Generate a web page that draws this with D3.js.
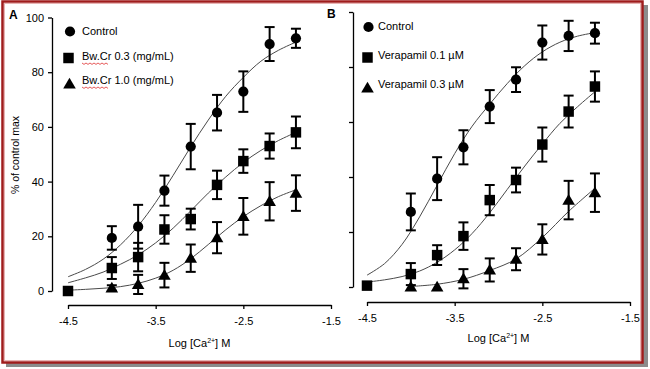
<!DOCTYPE html>
<html>
<head>
<meta charset="utf-8">
<script src="https://cdn.jsdelivr.net/npm/d3@7"></script>
<style>
  html, body { margin: 0; padding: 0; background: #fff; }
  svg { display: block; font-family: "Liberation Sans", Arial, sans-serif; }
</style>
</head>
<body>
<svg id="chart" width="650" height="369"></svg>
<script>
// ---------------- DATA ----------------
const concX = [-4.5, -4.0, -3.7, -3.4, -3.1, -2.8, -2.5, -2.2, -1.9];
const xTicks = [-4.5, -3.5, -2.5, -1.5];
const yTicks = [0, 20, 40, 60, 80, 100];

// Panel A
const aLabels = ["Control", "Bw.Cr 0.3 (mg/mL)", "Bw.Cr 1.0 (mg/mL)"];
const aControl    = [null, 19.4, 23.5, 36.7, 52.8, 65.2, 72.9, 90.3, 92.4];
const aControlErr = [null, 4.3, 8.0, 5.5, 8.3, 6.5, 7.4, 6.2, 3.5];
const aBw03       = [0, 8.4, 12.4, 22.5, 26.3, 38.8, 47.5, 53.0, 58.0];
const aBw03Err    = [0, 4.0, 5.2, 5.2, 3.8, 5.2, 4.3, 4.6, 5.8];
const aBw10       = [null, 1.1, 2.4, 5.8, 12.0, 19.5, 27.3, 32.8, 35.8];
const aBw10Err    = [null, 1.0, 3.5, 4.5, 5.0, 5.7, 6.7, 7.0, 6.5];

// Panel B
const bLabels = ["Control", "Verapamil 0.1 \u00B5M", "Verapamil 0.3 \u00B5M"];
const bControl    = [null, 27.3, 39.4, 50.8, 65.6, 75.4, 88.9, 91.3, 92.3];
const bControlErr = [null, 6.7, 7.8, 6.2, 6.0, 4.5, 6.2, 5.5, 3.8];
const bVer01      = [0.5, 4.7, 11.6, 18.5, 31.6, 38.9, 51.8, 63.8, 72.9];
const bVer01Err   = [0, 4.0, 3.6, 5.0, 5.5, 4.5, 6.2, 5.8, 5.5];
const bVer03      = [null, 0, 0, 3.0, 6.2, 10.1, 17.3, 31.6, 34.3];
const bVer03Err   = [null, 0, 0, 3.5, 4.2, 4.0, 5.5, 7.0, 7.0];

// Fitted curves
const curveX = [-4.5, -4.3, -4.1, -3.9, -3.7, -3.5, -3.3, -3.1, -2.9, -2.7, -2.5, -2.3, -2.1, -1.9];
const aControlFit = [5.2, 7.9, 11.6, 16.9, 23.8, 32.4, 42.3, 52.7, 62.5, 71.2, 78.1, 84.0, 88.0, 91.0];
const aBw03Fit    = [3.0, 4.8, 6.9, 9.8, 13.2, 17.6, 23.0, 29.3, 35.8, 41.7, 47.0, 51.4, 55.0, 58.0];
const aBw10Fit    = [0.3, 0.6, 1.0, 1.6, 2.8, 4.7, 7.6, 11.8, 17.0, 22.4, 27.2, 31.2, 34.5, 37.0];
const bControlFit = [4.3, 8.5, 15.5, 25.5, 37.0, 48.5, 58.5, 66.5, 74.0, 80.5, 85.5, 89.0, 91.2, 92.5];
const bVer01Fit   = [1.8, 2.6, 3.8, 5.8, 9.0, 13.5, 19.5, 27.0, 35.5, 44.0, 52.0, 59.5, 65.5, 71.0];
const bVer03FitX  = [-4.0, -3.7, -3.4, -3.1, -2.8, -2.5, -2.2, -1.9];
const bVer03Fit   = [0.2, 1.0, 2.8, 6.0, 10.2, 18.0, 27.5, 35.9];

// ---------------- DRAW ----------------
const svg = d3.select("#chart");

// frame with shadow
svg.append("rect").attr("x", 6).attr("y", 5).attr("width", 642).attr("height", 362).attr("fill", "#8c8c8c");
svg.append("rect").attr("x", 2.5).attr("y", 1.5).attr("width", 640).attr("height", 361)
  .attr("fill", "#fff").attr("stroke", "#a01c1c").attr("stroke-width", 2.5);
svg.append("rect").attr("x", 4.5).attr("y", 3.5).attr("width", 636).attr("height", 357)
  .attr("fill", "none").attr("stroke", "#e8b4b4").attr("stroke-width", 1);

function symbolPath(kind) {
  if (kind === "circle") return d3.symbol(d3.symbolCircle, 82)();
  if (kind === "square") return d3.symbol(d3.symbolSquare, 110)();
  return "M0,-6.2L6.3,4.6L-6.3,4.6Z";
}

function panel(cfg) {
  const x = d3.scaleLinear().domain([-4.5, -1.5]).range(cfg.xRange);
  const y = d3.scaleLinear().domain([0, 100]).range(cfg.yRange);
  const g = svg.append("g");

  // y axis
  const yAxis = d3.axisLeft(y).tickValues(yTicks).tickSize(4).tickSizeOuter(0).tickPadding(4)
    .tickFormat(cfg.yLabels ? d => String(d) : () => "");
  const ya = g.append("g").attr("transform", `translate(${cfg.yAxisX},0)`).call(yAxis);
  // x axis
  const xAxis = d3.axisBottom(x).tickValues(xTicks).tickSize(4).tickSizeOuter(0).tickPadding(8)
    .tickFormat(d => d.toFixed(1));
  const xa = g.append("g").attr("transform", `translate(0,${cfg.xAxisY})`).call(xAxis);
  [ya, xa].forEach(a => {
    a.selectAll("path.domain").attr("stroke", "#000").attr("stroke-width", 1.3);
    a.selectAll(".tick line").attr("stroke", "#000").attr("stroke-width", 1.3);
    a.selectAll(".tick text").attr("fill", "#000").style("font-size", "11px")
      .style("font-family", "'Liberation Sans', Arial, sans-serif");
  });

  // axis title
  const t = g.append("text").attr("x", (cfg.xRange[0] + cfg.xRange[1]) / 2).attr("y", cfg.titleY)
    .attr("text-anchor", "middle").style("font-size", "11px").attr("fill", "#000");
  t.append("tspan").text("Log [Ca");
  t.append("tspan").text("2+").attr("dy", -4).style("font-size", "7px");
  t.append("tspan").text("] M").attr("dy", 4);

  // panel letter
  g.append("text").attr("x", cfg.letterX).attr("y", cfg.letterY).text(cfg.letter)
    .style("font-size", "12px").style("font-weight", "bold").attr("fill", "#000");

  // curves
  const line = d3.line().defined(d => d[1] != null).x(d => x(d[0])).y(d => y(d[1]))
    .curve(d3.curveCatmullRom.alpha(0.5));
  cfg.fits.forEach(f => {
    g.append("path").attr("d", line(f.xs.map((xv, i) => [xv, f.ys[i]])))
      .attr("fill", "none").attr("stroke", "#4a4a4a").attr("stroke-width", 1);
  });

  // error bars
  cfg.series.forEach(s => {
    s.vals.forEach((v, i) => {
      const e = s.err[i];
      if (v == null || !e) return;
      const cx = x(concX[i]);
      const eg = g.append("g").attr("stroke", "#000").attr("stroke-width", 2);
      eg.append("line").attr("x1", cx).attr("x2", cx).attr("y1", y(v + e)).attr("y2", y(v - e));
      eg.append("line").attr("x1", cx - 5).attr("x2", cx + 5).attr("y1", y(v + e)).attr("y2", y(v + e));
      eg.append("line").attr("x1", cx - 5).attr("x2", cx + 5).attr("y1", y(v - e)).attr("y2", y(v - e));
    });
  });
  // markers
  cfg.series.forEach(s => {
    s.vals.forEach((v, i) => {
      if (v == null) return;
      g.append("path").attr("d", symbolPath(s.kind))
        .attr("transform", `translate(${x(concX[i])},${y(v)})`).attr("fill", "#000");
    });
  });

  // legend
  cfg.legend.forEach((L, i) => {
    g.append("path").attr("d", symbolPath(L.kind))
      .attr("transform", `translate(${L.mx},${L.my})`).attr("fill", "#000");
    g.append("text").attr("x", L.tx).attr("y", L.ty).text(L.label)
      .style("font-size", "11px").attr("fill", "#000").attr("dominant-baseline", "middle");
    if (L.squiggle) {
      const pts = [];
      for (let k = 0; k <= 26; k += 2) pts.push([L.tx + k, L.ty + 6 + (k % 4 === 0 ? 0 : 1.4)]);
      g.append("path").attr("d", d3.line()(pts)).attr("fill", "none")
        .attr("stroke", "#e03030").attr("stroke-width", 0.8);
    }
  });
}

// Panel A
panel({
  xRange: [68, 331], yRange: [291, 17.5], yAxisX: 52, xAxisY: 305, yLabels: true,
  titleY: 347, letter: "A", letterX: 9, letterY: 19,
  fits: [
    { xs: curveX, ys: aControlFit },
    { xs: curveX, ys: aBw03Fit },
    { xs: curveX, ys: aBw10Fit }
  ],
  series: [
    { kind: "circle", vals: aControl, err: aControlErr },
    { kind: "square", vals: aBw03, err: aBw03Err },
    { kind: "triangle", vals: aBw10, err: aBw10Err }
  ],
  legend: [
    { kind: "circle", label: aLabels[0], mx: 70, my: 31.5, tx: 82, ty: 32 },
    { kind: "square", label: aLabels[1], mx: 68.5, my: 58, tx: 82, ty: 57, squiggle: true },
    { kind: "triangle", label: aLabels[2], mx: 69.5, my: 84, tx: 82, ty: 81, squiggle: true }
  ]
});

// Panel B
panel({
  xRange: [367, 630], yRange: [287, 12], yAxisX: 353, xAxisY: 302, yLabels: false,
  titleY: 342, letter: "B", letterX: 327, letterY: 18,
  fits: [
    { xs: curveX, ys: bControlFit },
    { xs: curveX, ys: bVer01Fit },
    { xs: bVer03FitX, ys: bVer03Fit }
  ],
  series: [
    { kind: "circle", vals: bControl, err: bControlErr },
    { kind: "square", vals: bVer01, err: bVer01Err },
    { kind: "triangle", vals: bVer03, err: bVer03Err }
  ],
  legend: [
    { kind: "circle", label: bLabels[0], mx: 368.5, my: 27, tx: 378, ty: 27 },
    { kind: "square", label: bLabels[1], mx: 367.5, my: 57.5, tx: 378, ty: 56.5 },
    { kind: "triangle", label: bLabels[2], mx: 367.5, my: 88, tx: 378, ty: 85.5 }
  ]
});

// y-axis label for A
svg.append("text").attr("transform", "translate(19,155) rotate(-90)")
  .attr("text-anchor", "middle").style("font-size", "10.5px").attr("fill", "#000")
  .text("% of control max");
</script>
</body>
</html>
